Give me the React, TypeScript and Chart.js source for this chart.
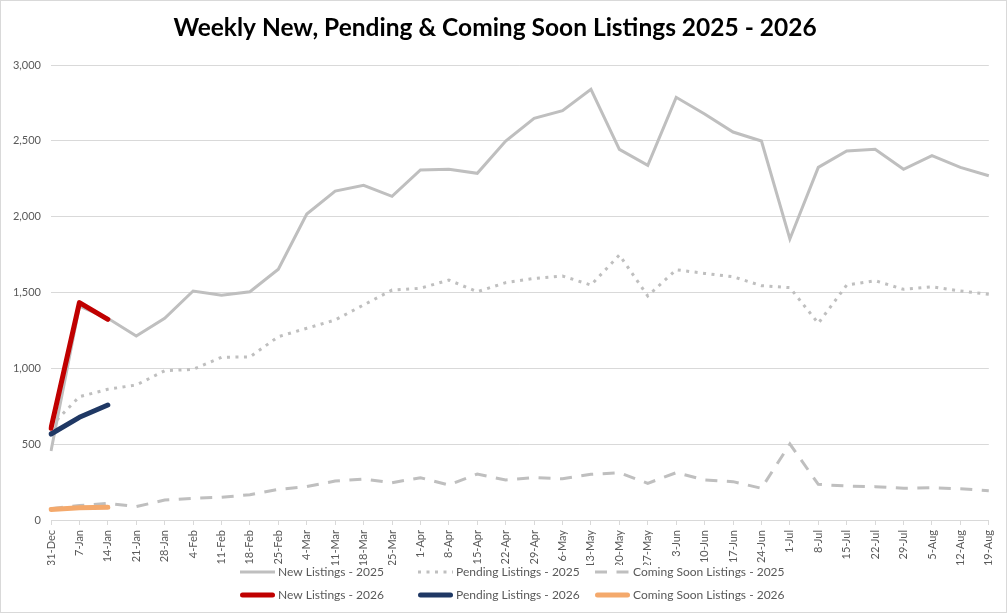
import React, { useEffect, useRef } from "react";
import { Chart, registerables } from "chart.js";

Chart.register(...registerables);

const categories = [
  "31-Dec", "7-Jan", "14-Jan", "21-Jan", "28-Jan", "4-Feb", "11-Feb", "18-Feb", "25-Feb",
  "4-Mar", "11-Mar", "18-Mar", "25-Mar", "1-Apr", "8-Apr", "15-Apr", "22-Apr", "29-Apr",
  "6-May", "13-May", "20-May", "27-May", "3-Jun", "10-Jun", "17-Jun", "24-Jun", "1-Jul",
  "8-Jul", "15-Jul", "22-Jul", "29-Jul", "5-Aug", "12-Aug", "19-Aug",
];

const newListings2025 = [
  455, 1410, 1330, 1213, 1330, 1510, 1482, 1505, 1653, 2017, 2169, 2207, 2134, 2308, 2312,
  2286, 2499, 2648, 2699, 2840, 2444, 2338, 2787, 2677, 2558, 2499, 1853, 2325, 2433, 2444,
  2312, 2402, 2325, 2270,
];

const pendingListings2025 = [
  620, 813, 862, 890, 984, 993, 1073, 1075, 1209, 1264, 1319, 1418, 1516, 1528, 1582, 1505,
  1565, 1593, 1609, 1549, 1747, 1477, 1650, 1626, 1604, 1545, 1532, 1297, 1549, 1578, 1521,
  1538, 1510, 1488,
];

const comingSoon2025 = [
  75, 95, 110, 88, 132, 143, 150, 167, 202, 220, 257, 270, 246, 279, 231, 303, 264, 279, 272,
  301, 312, 242, 312, 264, 253, 209, 501, 235, 224, 220, 209, 213, 206, 193,
];

const newListings2026 = [605, 1433, 1323];
const pendingListings2026 = [567, 677, 758];
const comingSoon2026 = [70, 81, 84];

const yTicks = [0, 500, 1000, 1500, 2000, 2500, 3000];

const seriesNames = [
  "New Listings - 2025",
  "Pending Listings - 2025",
  "Coming Soon Listings - 2025",
  "New Listings - 2026",
  "Pending Listings - 2026",
  "Coming Soon Listings - 2026",
];

const FONT = "Lato, 'Open Sans', sans-serif";
const TEXT = "#595959";

export default function App() {
  const ref = useRef<HTMLCanvasElement>(null);

  useEffect(() => {
    document.body.style.margin = "0";
    const canvas = ref.current;
    if (!canvas) return;

    const framePlugin = {
      id: "frame",
      beforeDraw(chart: any) {
        const { ctx, width, height } = chart;
        ctx.save();
        ctx.fillStyle = "#ffffff";
        ctx.fillRect(0, 0, width, height);
        ctx.strokeStyle = "#d9d9d9";
        ctx.lineWidth = 1;
        ctx.strokeRect(0.5, 0.5, width - 1, height - 1);
        ctx.restore();
      },
    };

    const legendPlugin = {
      id: "excelLegend",
      afterDraw(chart: any) {
        const { ctx } = chart;
        const cols = [240, 418, 595];
        const rows = [572, 595];
        const sampleLen = 35;
        ctx.save();
        chart.data.datasets.forEach((ds: any, i: number) => {
          const x = cols[i % 3];
          const y = rows[Math.floor(i / 3)];
          ctx.beginPath();
          ctx.strokeStyle = ds.borderColor;
          ctx.lineWidth = ds.borderWidth;
          ctx.lineCap = ds.borderCapStyle || "butt";
          ctx.setLineDash(ds.borderDash || []);
          const inset = ds.borderCapStyle === "round" ? ds.borderWidth / 2 : 0;
          ctx.moveTo(x + inset, y);
          ctx.lineTo(x + sampleLen - inset, y);
          ctx.stroke();
          ctx.setLineDash([]);
          ctx.fillStyle = TEXT;
          ctx.font = `12px ${FONT}`;
          ctx.textBaseline = "middle";
          ctx.textAlign = "left";
          ctx.fillText(ds.label, x + sampleLen + 3, y);
        });
        ctx.restore();
      },
    };

    const base = {
      pointRadius: 0,
      pointHoverRadius: 0,
      tension: 0,
      fill: false,
    };

    const chart = new Chart(canvas, {
      type: "line",
      data: {
        labels: categories,
        datasets: [
          {
            ...base,
            label: seriesNames[0],
            data: newListings2025,
            borderColor: "#bfbfbf",
            borderWidth: 3,
            order: 1,
          },
          {
            ...base,
            label: seriesNames[1],
            data: pendingListings2025,
            borderColor: "#bfbfbf",
            borderWidth: 3,
            borderDash: [3, 5.5],
            order: 1,
          },
          {
            ...base,
            label: seriesNames[2],
            data: comingSoon2025,
            borderColor: "#bfbfbf",
            borderWidth: 3,
            borderDash: [12, 9.5],
            order: 1,
          },
          {
            ...base,
            label: seriesNames[3],
            data: newListings2026,
            borderColor: "#c00000",
            borderWidth: 5,
            borderCapStyle: "round",
            borderJoinStyle: "round",
            order: 0,
          },
          {
            ...base,
            label: seriesNames[4],
            data: pendingListings2026,
            borderColor: "#1f3864",
            borderWidth: 5,
            borderCapStyle: "round",
            borderJoinStyle: "round",
            order: 0,
          },
          {
            ...base,
            label: seriesNames[5],
            data: comingSoon2026,
            borderColor: "#f4a96c",
            borderWidth: 5,
            borderCapStyle: "round",
            borderJoinStyle: "round",
            order: 0,
          },
        ] as any,
      },
      options: {
        animation: false,
        responsive: false,
        maintainAspectRatio: false,
        layout: { padding: { left: 0, right: 17, top: 0, bottom: 48 } },
        plugins: {
          legend: { display: false },
          tooltip: { enabled: false },
          title: {
            display: true,
            text: "Weekly New, Pending & Coming Soon Listings 2025 - 2026",
            color: "#000000",
            font: { family: FONT, size: 24.5, weight: "bold", lineHeight: 1.2 },
            padding: { top: 13, bottom: 22.6 },
          },
        },
        scales: {
          x: {
            offset: false,
            grid: {
              display: true,
              drawOnChartArea: false,
              drawTicks: true,
              tickLength: 5,
              color: "#d9d9d9",
            },
            border: { display: true, color: "#d9d9d9", width: 1 },
            ticks: {
              autoSkip: false,
              minRotation: 90,
              maxRotation: 90,
              padding: 5,
              color: TEXT,
              font: { family: FONT, size: 11 },
            },
            afterFit(scale: any) {
              scale.height = 45;
            },
          },
          y: {
            min: 0,
            max: 3000,
            afterBuildTicks(scale: any) {
              scale.ticks = yTicks.map((v) => ({ value: v }));
            },
            grid: { color: "#d9d9d9", drawTicks: false, lineWidth: 1 },
            border: { display: false },
            ticks: {
              padding: 10,
              color: TEXT,
              font: { family: FONT, size: 11 },
              callback: (v: any) => Number(v).toLocaleString("en-US"),
            },
            afterFit(scale: any) {
              scale.width = 51;
            },
          },
        },
      },
      plugins: [framePlugin, legendPlugin],
    });

    return () => chart.destroy();
  }, []);

  return (
    <div style={{ width: 1007, height: 613 }}>
      <canvas ref={ref} width={1007} height={613} style={{ display: "block" }} />
    </div>
  );
}
